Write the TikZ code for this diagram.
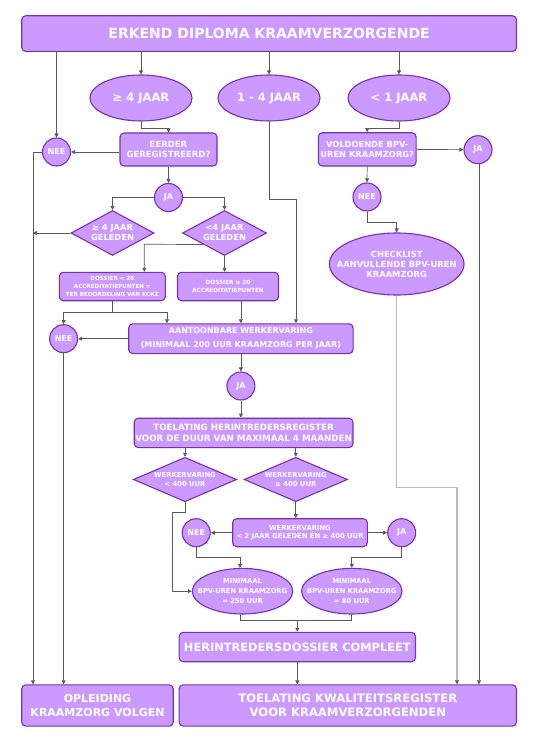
\documentclass[tikz,border=0pt]{standalone}
\usepackage{fontspec}
\setmainfont{DejaVu Sans}
\usetikzlibrary{shapes.geometric,arrows.meta}
\definecolor{fillc}{RGB}{204,153,255}
\definecolor{drawc}{RGB}{120,50,170}
\definecolor{linec}{RGB}{90,90,90}
\definecolor{lightc}{RGB}{185,185,185}
\newcommand\myfs[2]{\fontsize{#1}{#2}\selectfont\bfseries}
\tikzset{
  shp/.style={draw=drawc, fill=fillc, line width=1.1pt, inner sep=0pt},
  box/.style={shp, rounded corners=4pt, text=white, align=center},
  ell/.style={shp, ellipse},
  circ/.style={shp, circle, minimum size=28pt, text=white, font=\myfs{8}{10}},
  dia/.style={shp, diamond, text=white, align=center},
  lbl/.style={text=white, align=center, inner sep=0pt},
  ln/.style={draw=linec, line width=0.7pt},
  arr/.style={ln, -{Triangle[length=4pt,width=4pt]}},
  larr/.style={draw=lightc, line width=1.3pt, -{Triangle[length=4pt,width=4pt,color=linec]}},
}
\begin{document}
\begin{tikzpicture}[x=1pt,y=-1pt]
\fill[white] (0,0) rectangle (547,746);
\useasboundingbox (0,0) rectangle (547,746);

% nodes
\node[box, minimum width=494.8pt, minimum height=35.7pt, font=\myfs{14}{17}] (top) at (269.1,33.6) {ERKEND DIPLOMA KRAAMVERZORGENDE};

\node[ell, minimum width=102pt, minimum height=46pt] (e1) at (141,98) {};
\node[lbl, font=\myfs{11.5}{14}] (e1t) at (e1) {≥ 4 JAAR};
\node[ell, minimum width=102pt, minimum height=46pt] (e2) at (269,98) {};
\node[lbl, font=\myfs{11.5}{14}] (e2t) at (e2) {1 - 4 JAAR};
\node[ell, minimum width=102pt, minimum height=46pt] (e3) at (399,98) {};
\node[lbl, font=\myfs{11.5}{14}] (e3t) at (e3) {< 1 JAAR};

\node[circ] (nee1) at (56.5,152) {NEE};
\node[box, minimum width=97pt, minimum height=33pt, font=\myfs{8.5}{10.3}] (eerder) at (168.5,149.5) {EERDER\\GEREGISTREERD?};
\node[box, minimum width=97.7pt, minimum height=33.3pt, font=\myfs{8.3}{10}] (volde) at (367.2,149.4) {VOLDOENDE BPV-\\UREN KRAAMZORG?};
\node[circ] (ja1) at (478,149.7) {JA};

\node[circ] (ja2) at (168.5,197.5) {JA};
\node[circ] (neer) at (367,197) {NEE};

\node[dia, aspect=1.85, minimum width=83pt, minimum height=45pt, font=\myfs{8.3}{10}] (d1) at (112.5,233) {≥ 4 JAAR\\GELEDEN};
\node[dia, aspect=1.85, minimum width=84pt, minimum height=45pt, font=\myfs{8.3}{10}] (d2) at (224.5,233) {<4 JAAR\\GELEDEN};

\node[ell, minimum width=134.6pt, minimum height=62pt] (chk) at (396.7,264) {};
\node[lbl, font=\myfs{8.35}{10}] (chkt) at (chk) {CHECKLIST\\AANVULLENDE BPV-UREN\\KRAAMZORG};

\node[box, minimum width=106pt, minimum height=28.4pt, font=\myfs{5.6}{7.6}] (dos1) at (112.3,286.5) {DOSSIER < 20\\ACCREDITATIEPUNTEN =\\TER BEOORDELING VAN KCKZ};
\node[box, minimum width=101pt, minimum height=28.4pt, font=\myfs{5.7}{7.2}] (dos2) at (228,286.5) {DOSSIER ≥ 20\\ACCREDITATIEPUNTEN};

\node[box, minimum width=224.3pt, minimum height=29.8pt, font=\myfs{8}{14}] (aant) at (240.9,338.7) {AANTOONBARE WERKERVARING\\(MINIMAAL 200 UUR KRAAMZORG PER JAAR)};
\node[circ] (nee2) at (63.6,338.7) {NEE};
\node[circ] (ja3) at (240.9,386) {JA};

\node[box, minimum width=218.7pt, minimum height=29.4pt, font=\myfs{8.7}{10.9}] (toel) at (243.6,432.9) {TOELATING HERINTREDERSREGISTER\\VOOR DE DUUR VAN MAXIMAAL 4 MAANDEN};

\node[dia, aspect=2.33, minimum width=103.4pt, minimum height=44.4pt, font=\myfs{6.8}{8.3}] (d3) at (185,479.5) {WERKERVARING\\< 400 UUR};
\node[dia, aspect=2.33, minimum width=103.4pt, minimum height=44.4pt, font=\myfs{6.8}{8.3}] (d4) at (295.8,479.5) {WERKERVARING\\≥ 400 UUR};

\node[box, minimum width=134.6pt, minimum height=28pt, font=\myfs{6.8}{8.3}] (werk) at (300,532.7) {WERKERVARING\\< 2 JAAR GELEDEN ÉN ≥ 400 UUR};
\node[circ] (nee3) at (196.2,532.7) {NEE};
\node[circ] (ja4) at (401.7,532.7) {JA};

\node[ell, minimum width=100.4pt, minimum height=45.6pt] (min1) at (242.5,591.2) {};
\node[lbl, font=\myfs{6.7}{10.3}] (min1t) at (min1) {MINIMAAL\\BPV-UREN KRAAMZORG\\= 250 UUR};
\node[ell, minimum width=100.4pt, minimum height=45.6pt] (min2) at (351.8,591.2) {};
\node[lbl, font=\myfs{6.7}{10.3}] (min2t) at (min2) {MINIMAAL\\BPV-UREN KRAAMZORG\\= 80 UUR};

\node[box, minimum width=236.3pt, minimum height=29.4pt, font=\myfs{11.4}{14}] (herin) at (297.3,647) {HERINTREDERSDOSSIER COMPLEET};

\node[box, minimum width=151.5pt, minimum height=41.3pt, font=\myfs{11}{14.7}] (opl) at (97.5,705.5) {OPLEIDING\\KRAAMZORG VOLGEN};
\node[box, minimum width=337.3pt, minimum height=41.3pt, font=\myfs{11.6}{14}] (kwal) at (347.8,705.5) {TOELATING KWALITEITSREGISTER\\VOOR KRAAMVERZORGENDEN};

% coordinates
\coordinate (c1) at (141,128);
\coordinate (c2) at (399,128);
\coordinate (c3) at (269,199.5);
\coordinate (c3b) at (296,199.5);
\coordinate (c4) at (33,152);
\coordinate (c5) at (33,233);
\coordinate (c6) at (144.3,244.25);
\coordinate (c7) at (112.3,312.3);
\coordinate (c8) at (167,312.3);
\coordinate (c10) at (185,512.7);
\coordinate (c11) at (172.7,512.7);
\coordinate (c12) at (196.2,557.3);
\coordinate (c13) at (240,557.3);
\coordinate (c14) at (351.8,557.3);
\coordinate (c15) at (240.5,620);
\coordinate (c17) at (396.7,487.7);
\coordinate (c18) at (457,487.7);
\coordinate (c19) at (396.7,222.3);
\coordinate (c20) at (479,163);

% connectors
\draw[arr] (top.south -| nee1) -- (nee1.north);
\draw[arr] (top.south -| e1) -- (e1.north);
\draw[arr] (top.south -| e2) -- (e2.north);
\draw[arr] (top.south -| e3) -- (e3.north);
\draw[arr] (e1.south) -- (c1) -| (eerder.north);
\draw[arr] (e3.south) -- (c2) -| (volde.north);
\draw[arr] (e2.south) -- (c3) -- (c3b) -- (c3b |- aant.north);
\draw[arr] (eerder.west |- nee1) -- (nee1.east);
\draw[arr] (nee1.west) -- (c4) -- (c4 |- opl.north);
\draw[arr] (d1.west) -- (c5);
\draw[arr] (eerder.south) -- (ja2.north);
\draw[arr] (ja2.west) -| (d1.north);
\draw[arr] (ja2.east) -| (d2.north);
\draw[arr] (d2.south west) -- (c6) -- (c6 |- dos1.north);
\draw[arr] (d2.south) -- (d2.south |- dos2.north);
\draw[ln] (dos1.south) -- (c7);
\draw[arr] (c7) -| (nee2.north);
\draw[arr] (c7) -- (c8) -- (c8 |- aant.north);
\draw[arr] (dos2.south -| aant.north) -- (aant.north);
\draw[arr] (aant.west) -- (nee2.east);
\draw[arr] (nee2.south) -- (nee2.south |- opl.north);
\draw[arr] (aant.south) -- (ja3.north);
\draw[arr] (ja3.south) -- (ja3.south |- toel.north);
\draw[arr] (toel.south -| d3.north) -- (d3.north);
\draw[arr] (toel.south -| d4.north) -- (d4.north);
\draw[arr] (d3.south) -- (c10) -- (c11) |- (min1.west);
\draw[arr] (d4.south) -- (d4.south |- werk.north);
\draw[arr] (werk.west) -- (nee3.east);
\draw[arr] (werk.east) -- (ja4.west);
\draw[arr] (nee3.south) -- (c12) -- (c13) -- (c13 |- min1.north);
\draw[arr] (ja4.south) |- (c14) -- (min2.north);
\draw[ln] (min1.south -| c15) -- (c15) -- (c15 -| min2.south) -- (min2.south);
\draw[arr] (c15 -| herin.north) -- (herin.north);
\draw[arr] (herin.south) -- (herin.south |- kwal.north);
\draw[larr] (chk.south) -- (c17) -- (c18) -- (c18 |- kwal.north);
\draw[arr] (volde.east) -- (ja1.west);
\draw[arr] (volde.south) -- (neer.north);
\draw[arr] (neer.south) |- (c19) -- (chk.north);
\draw[arr] (ja1.south -| c20) -- (c20 |- kwal.north);
\end{tikzpicture}
\end{document}
